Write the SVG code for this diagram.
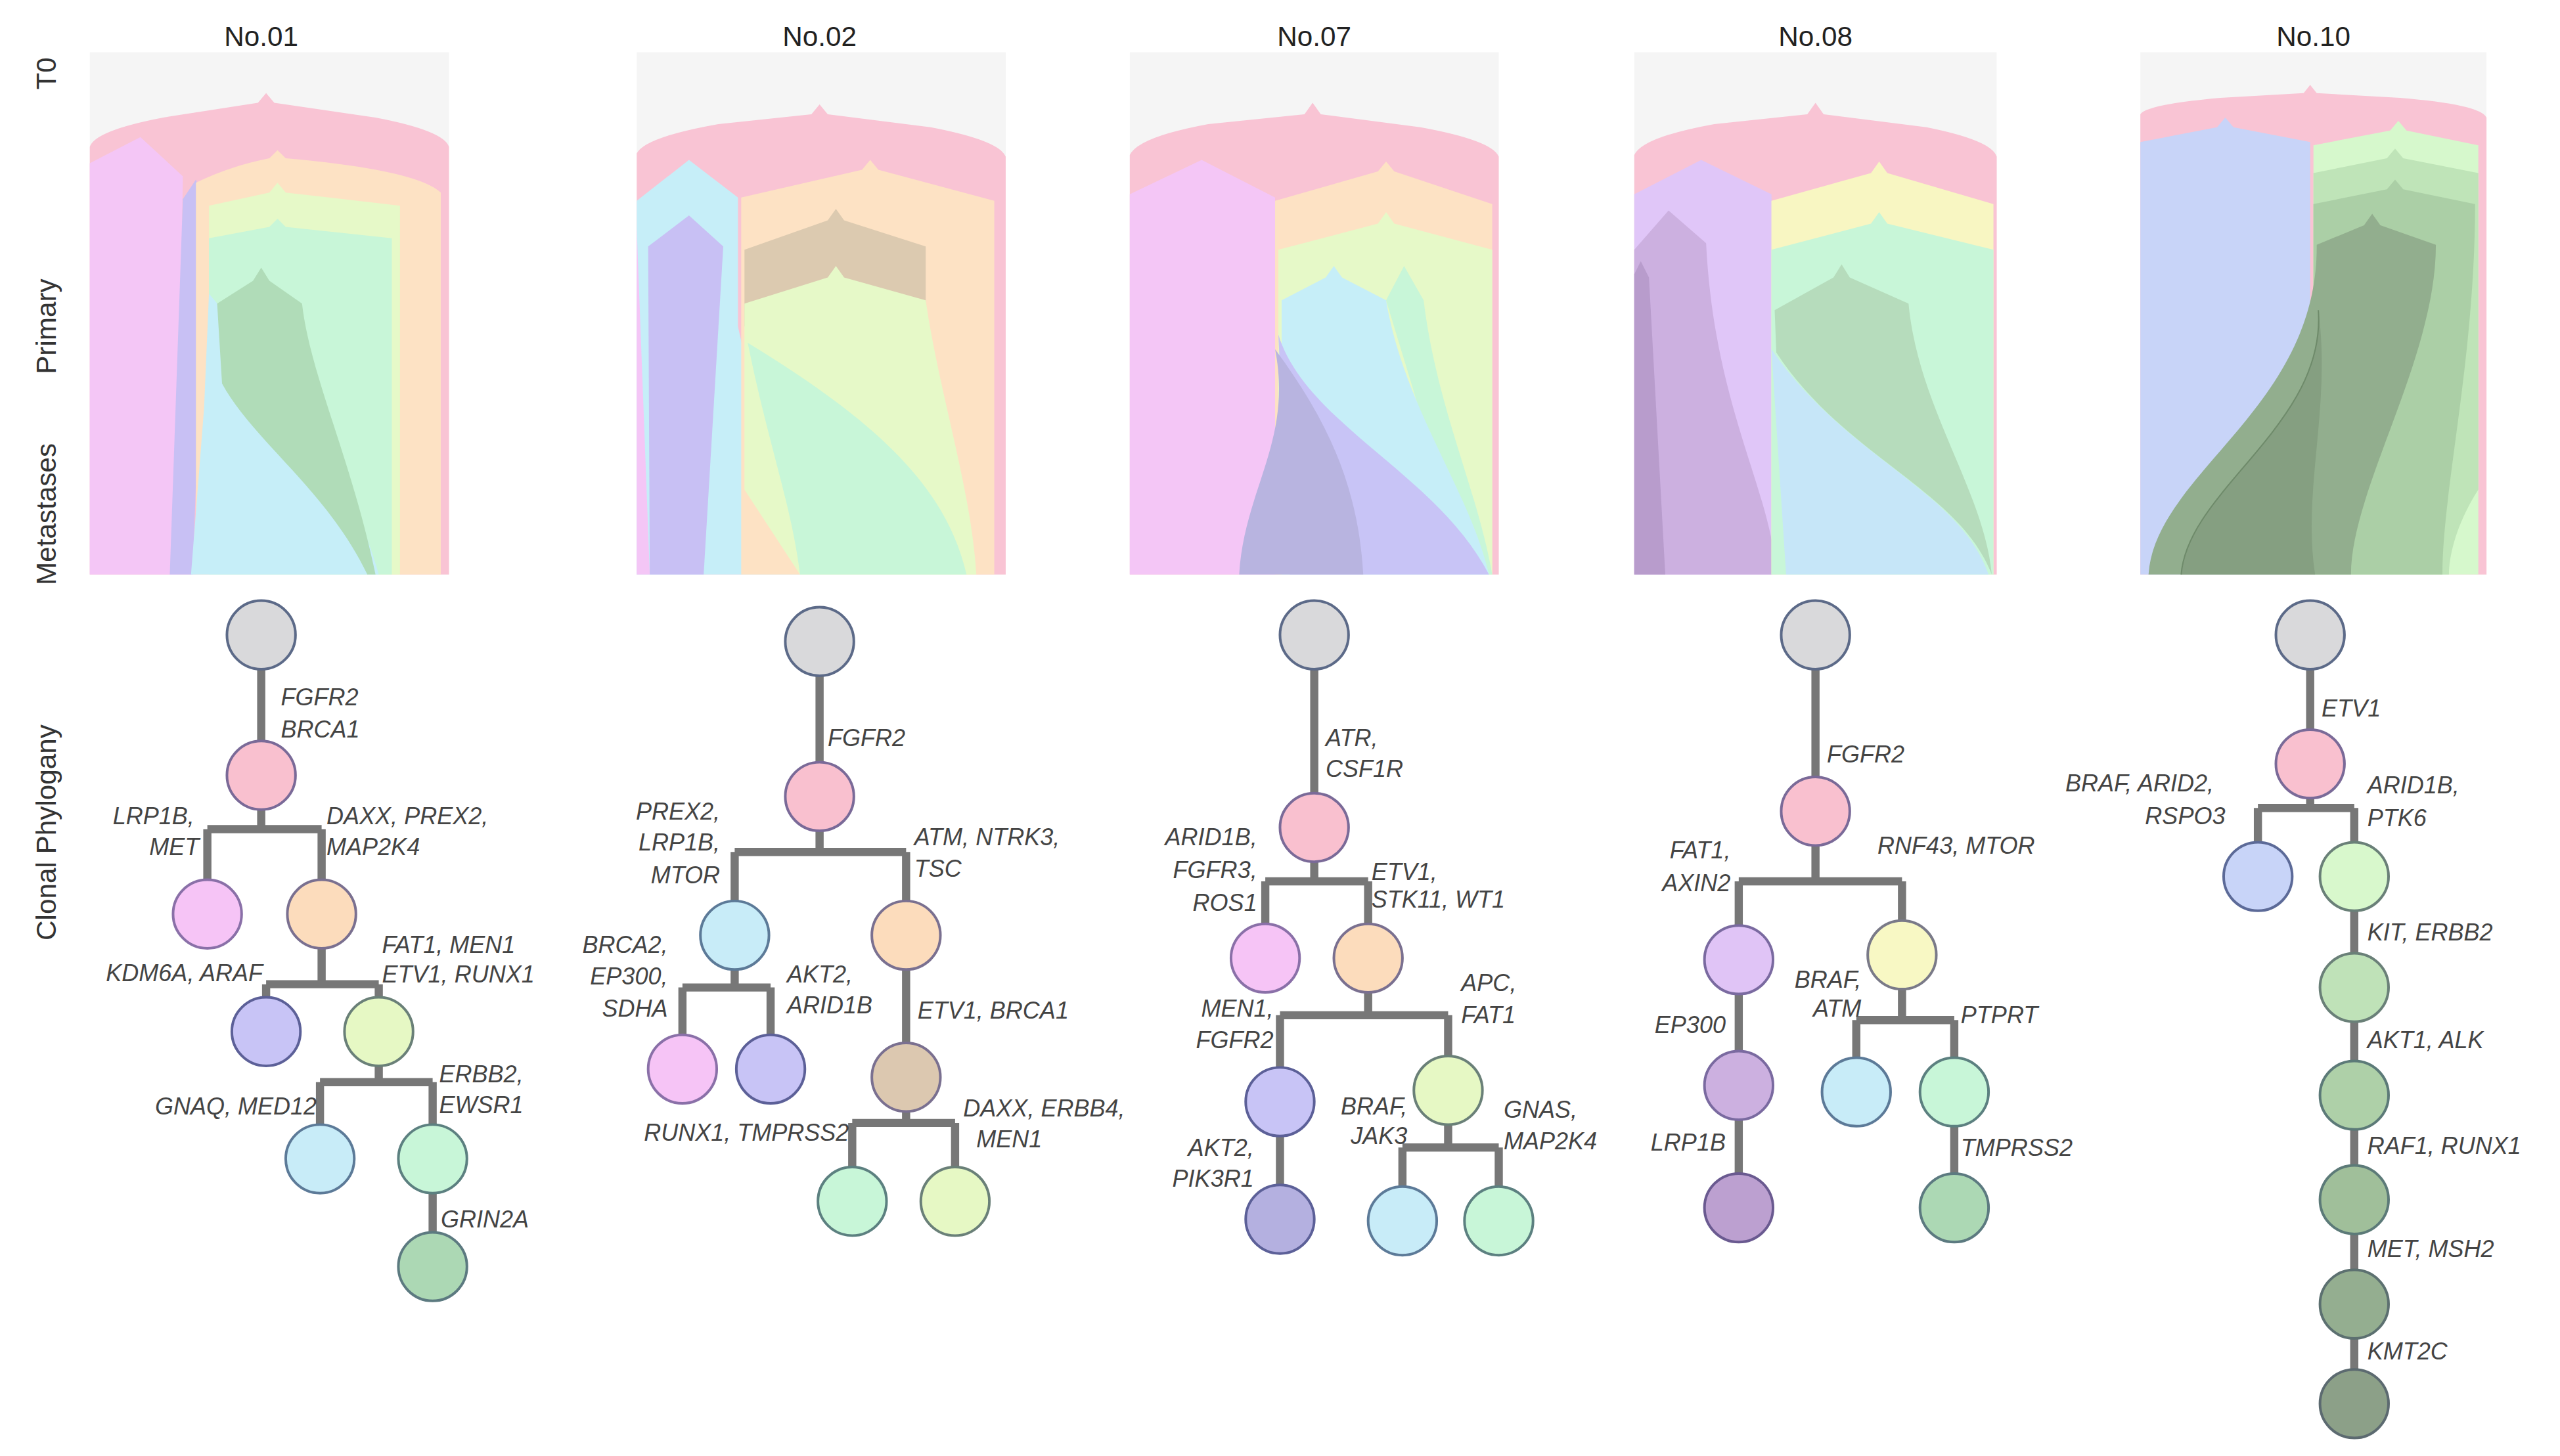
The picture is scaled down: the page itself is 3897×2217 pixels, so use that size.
<svg xmlns="http://www.w3.org/2000/svg" width="3897" height="2217" viewBox="0 0 3897 2217">
<style>
.t{font-family:"Liberation Sans",Arial,sans-serif;font-size:17px;fill:#222}
.r{font-family:"Liberation Sans",Arial,sans-serif;font-size:17px;fill:#333}
.l{font-family:"Liberation Sans",Arial,sans-serif;font-size:14.5px;font-style:italic;fill:#444}
.e{text-anchor:end}
.c{stroke-width:1.6}
.ed{fill:none;stroke:#777;stroke-width:5}
.bg{fill:#f5f5f5}
</style>
<rect width="3897" height="2217" fill="#fff"/>
<g transform="scale(2.4853)">
<g id="titles">
<text class="t" x="160" y="28" text-anchor="middle">No.01</text>
<text class="t" x="502" y="28" text-anchor="middle">No.02</text>
<text class="t" x="805" y="28" text-anchor="middle">No.07</text>
<text class="t" x="1112" y="28" text-anchor="middle">No.08</text>
<text class="t" x="1417" y="28" text-anchor="middle">No.10</text>
<text class="r" transform="translate(34,45) rotate(-90)" text-anchor="middle">T0</text>
<text class="r" transform="translate(34,200) rotate(-90)" text-anchor="middle">Primary</text>
<text class="r" transform="translate(34,315) rotate(-90)" text-anchor="middle">Metastases</text>
<text class="r" transform="translate(34,510) rotate(-90)" text-anchor="middle">Clonal Phylogany</text>
</g>

<g id="fish01">
<rect class="bg" x="55" y="32" width="220" height="320"/>
<path d="M55,352 L55,90 Q58,80 100,72 L158,63 L163,57 L168,63 L230,72 Q272,80 275,90 L275,352 Z" fill="#f9c4d4"/>
<path d="M55,352 L55,100 L86,84 L112,108 L108,352 Z" fill="#f4c6f6"/>
<path d="M104,352 L112,122 L120,110 L126,130 L118,352 Z" fill="#c8c0f4"/>
<path d="M120,352 L120,112 Q140,102 165,97 L170,92 L175,97 Q255,104 270,118 L270,352 Z" fill="#fde2c4"/>
<path d="M128,352 L128,126 L165,118 L170,112 L175,118 L245,126 L245,352 Z" fill="#e6f9c8"/>
<path d="M128,352 L128,146 L165,139 L170,134 L175,139 L240,146 L240,352 Z" fill="#c8f6d8"/>
<path d="M117,352 L125,250 L128,180 C170,230 215,290 232,352 Z" fill="#c6eef8"/>
<path d="M133,186 L155,172 L160,164 L165,172 L185,186 C190,230 215,280 230,352 L225,352 C200,300 155,270 136,235 Z" fill="#b0dcb8"/>
</g>

<g id="fish02">
<rect class="bg" x="390" y="32" width="226" height="320"/>
<path d="M390,352 L390,94 Q395,84 440,76 L497,70 L502,64 L507,70 L570,78 Q612,86 616,96 L616,352 Z" fill="#f9c4d4"/>
<path d="M390,352 L390,123 L422,98 L452,121 L452,200 C465,260 485,300 490,352 Z" fill="#c6eef8"/>
<path d="M390,352 L390,140 L398,352 Z" fill="#f4c6f6"/>
<path d="M398,352 L397,151 L422,132 L443,151 L431,352 Z" fill="#c8c0f4"/>
<path d="M454,352 L454,121 L528,104 L533,98 L538,104 L609,123 L609,352 Z" fill="#fde2c4"/>
<path d="M456,200 L456,153 L507,135 L512,128 L517,135 L567,151 L567,200 Z" fill="#dccab0"/>
<path d="M456,300 L456,186 L507,170 L512,163 L517,170 L567,184 C575,240 595,300 598,352 L490,352 Z" fill="#e6f9c8"/>
<path d="M458,210 C470,270 485,310 490,352 L592,352 C580,300 540,260 458,210 Z" fill="#c8f6d8"/>
</g>

<g id="fish07">
<rect class="bg" x="692" y="32" width="226" height="320"/>
<path d="M692,352 L692,95 Q697,84 740,76 L799,70 L804,63 L809,70 L870,78 Q914,86 918,96 L918,352 Z" fill="#f9c4d4"/>
<path d="M692,352 L692,119 L736,98 L781,121 L781,352 Z" fill="#f4c6f6"/>
<path d="M781,352 L781,123 L844,105 L849,99 L854,105 L914,125 L914,352 Z" fill="#fde2c4"/>
<path d="M783,352 L783,153 L844,137 L849,130 L854,137 L914,153 L914,352 Z" fill="#e6f9c8"/>
<path d="M849,184 L860,163 L872,184 C880,250 905,300 914,352 L900,352 Z" fill="#c8f6d8"/>
<path d="M785,352 L785,184 L812,170 L817,163 L822,170 L849,184 C860,250 900,300 912,352 Z" fill="#c6eef8"/>
<path d="M783,205 C800,260 880,290 912,352 L790,352 Z" fill="#c8c4f6"/>
<path d="M781,214 C792,270 762,300 759,352 L835,352 C832,300 815,260 781,214 Z" fill="#b8b4e0"/>
</g>

<g id="fish08">
<rect class="bg" x="1001" y="32" width="222" height="320"/>
<path d="M1001,352 L1001,95 Q1006,84 1050,76 L1107,70 L1112,63 L1117,70 L1180,78 Q1220,86 1223,96 L1223,352 Z" fill="#f9c4d4"/>
<path d="M1001,352 L1001,119 L1042,98 L1085,119 L1094,352 Z" fill="#e0c6f8"/>
<path d="M1001,352 L1001,153 L1022,129 L1045,149 C1050,250 1085,300 1088,352 Z" fill="#ccb0e0"/>
<path d="M1001,352 L1001,168 L1005,160 L1010,170 L1020,352 Z" fill="#b89ccc"/>
<path d="M1085,352 L1085,123 L1146,106 L1151,99 L1156,106 L1221,125 L1221,352 Z" fill="#f8f6c2"/>
<path d="M1085,352 L1085,153 L1146,137 L1151,130 L1156,137 L1221,153 L1221,352 Z" fill="#c8f6d8"/>
<path d="M1094,352 L1085,214 C1130,280 1200,300 1218,352 Z" fill="#c6e6f8"/>
<path d="M1087,190 L1123,170 L1128,162 L1133,170 L1169,186 C1175,250 1215,300 1220,352 C1200,300 1130,280 1088,216 Z" fill="#b6dcbc"/>
</g>

<g id="fish10">
<rect class="bg" x="1311" y="32" width="212" height="320"/>
<path d="M1311,352 L1311,70 Q1315,64 1360,60 L1411,57 L1415,52 L1419,57 L1470,60 Q1519,64 1523,72 L1523,352 Z" fill="#f9c4d4"/>
<path d="M1311,352 L1311,87 L1358,78 L1363,72 L1368,78 L1415,87 L1415,352 Z" fill="#c8d4f8"/>
<path d="M1417,352 L1417,89 L1464,80 L1469,74 L1474,80 L1518,89 L1518,352 Z" fill="#d6f8cc"/>
<path d="M1417,352 L1417,106 L1462,97 L1467,91 L1472,97 L1518,106 L1518,300 C1505,320 1500,340 1500,352 Z" fill="#bfe4b8"/>
<path d="M1417,352 L1417,125 L1462,116 L1467,110 L1472,116 L1516,125 C1516,220 1496,300 1496,352 Z" fill="#a9cca4" opacity="0.9"/>
<path d="M1419,150 L1448,138 L1453,131 L1458,138 L1492,150 C1492,220 1440,300 1440,352 L1316,352 C1320,290 1420,250 1419,150 Z" fill="#92ae8e"/>
<path d="M1420,190 C1425,260 1340,300 1336,352 L1418,352 C1410,300 1428,250 1420,190 Z" fill="#859f81"/>
<path d="M1420,190 C1425,260 1340,300 1336,352" fill="none" stroke="#6e8a6a" stroke-width="0.8"/>
</g>

<g id="connectors" class="ed">
<path class="ed" d="M160,410 V454 M160,496 V508 M127,508 H197 M127,508 V540 M197,508 V540 M197,580 V603 M163,603 H232 M163,603 V612 M232,603 V612 M232,652 V663 M196,663 H265 M196,663 V690 M265,663 V690 M265,730 V755"/>
<path class="ed" d="M502,413 V468 M502,508 V522 M450,522 H555 M450,522 V553 M555,522 V553 M450,593 V605 M418,605 H472 M418,605 V635 M472,605 V635 M555,593 V640 M555,680 V688 M522,688 H585 M522,688 V716 M585,688 V716"/>
<path class="ed" d="M805,409 V487 M805,527 V540 M775,540 H838 M775,540 V567 M838,540 V567 M838,607 V622 M784,622 H887 M784,622 V655 M887,622 V648 M784,695 V727 M887,688 V703 M859,703 H918 M859,703 V728 M918,703 V728"/>
<path class="ed" d="M1112,409 V477 M1112,517 V540 M1065,540 H1165 M1065,540 V568 M1165,540 V565 M1065,608 V645 M1065,685 V720 M1165,605 V625 M1137,625 H1197 M1137,625 V649 M1197,625 V649 M1197,689 V720"/>
<path class="ed" d="M1415,409 V448 M1415,488 V495 M1383,495 H1442 M1383,495 V517 M1442,495 V517 M1442,557 V585 M1442,625 V651 M1442,691 V715 M1442,755 V779 M1442,819 V840"/>
</g>

<g id="tree01">
<circle class="c" cx="160" cy="389" r="21" fill="#d9d9db" stroke="#5c6a88"/>
<circle class="c" cx="160" cy="475" r="21" fill="#f9c0cf" stroke="#7a6a98"/>
<circle class="c" cx="127" cy="560" r="21" fill="#f6c4f6" stroke="#8a70a8"/>
<circle class="c" cx="197" cy="560" r="21" fill="#fcdcbc" stroke="#7a7090"/>
<circle class="c" cx="163" cy="632" r="21" fill="#c8c4f6" stroke="#5c6098"/>
<circle class="c" cx="232" cy="632" r="21" fill="#e6f8c4" stroke="#6a8078"/>
<circle class="c" cx="196" cy="710" r="21" fill="#c8ecf8" stroke="#5c7a98"/>
<circle class="c" cx="265" cy="710" r="21" fill="#c8f6d8" stroke="#5c8080"/>
<circle class="c" cx="265" cy="776" r="21" fill="#acd8b4" stroke="#5c7a80"/>
<text class="l" x="172" y="432">FGFR2</text>
<text class="l" x="172" y="452">BRCA1</text>
<text class="l e" x="119" y="505">LRP1B,</text>
<text class="l e" x="122" y="524">MET</text>
<text class="l" x="200" y="505">DAXX, PREX2,</text>
<text class="l" x="200" y="524">MAP2K4</text>
<text class="l e" x="161" y="601">KDM6A, ARAF</text>
<text class="l" x="234" y="584">FAT1, MEN1</text>
<text class="l" x="234" y="602">ETV1, RUNX1</text>
<text class="l e" x="194" y="683">GNAQ, MED12</text>
<text class="l" x="269" y="663">ERBB2,</text>
<text class="l" x="269" y="682">EWSR1</text>
<text class="l" x="270" y="752">GRIN2A</text>
</g>

<g id="tree02">
<circle class="c" cx="502" cy="393" r="21" fill="#d9d9db" stroke="#5c6a88"/>
<circle class="c" cx="502" cy="488" r="21" fill="#f9c0cf" stroke="#7a6a98"/>
<circle class="c" cx="450" cy="573" r="21" fill="#c8ecf8" stroke="#5c7a98"/>
<circle class="c" cx="555" cy="573" r="21" fill="#fcdcbc" stroke="#7a7090"/>
<circle class="c" cx="418" cy="655" r="21" fill="#f6c4f6" stroke="#8a70a8"/>
<circle class="c" cx="472" cy="655" r="21" fill="#c8c4f6" stroke="#5c6098"/>
<circle class="c" cx="555" cy="660" r="21" fill="#dcc8b0" stroke="#7a7090"/>
<circle class="c" cx="522" cy="736" r="21" fill="#c8f6d8" stroke="#5c8080"/>
<circle class="c" cx="585" cy="736" r="21" fill="#e6f8c4" stroke="#6a8078"/>
<text class="l" x="507" y="457">FGFR2</text>
<text class="l e" x="441" y="502">PREX2,</text>
<text class="l e" x="441" y="521">LRP1B,</text>
<text class="l e" x="441" y="541">MTOR</text>
<text class="l" x="560" y="518">ATM, NTRK3,</text>
<text class="l" x="560" y="537">TSC</text>
<text class="l e" x="409" y="584">BRCA2,</text>
<text class="l e" x="409" y="603">EP300,</text>
<text class="l e" x="409" y="623">SDHA</text>
<text class="l" x="482" y="602">AKT2,</text>
<text class="l" x="482" y="621">ARID1B</text>
<text class="l" x="562" y="624">ETV1, BRCA1</text>
<text class="l e" x="520" y="699">RUNX1, TMPRSS2</text>
<text class="l" x="590" y="684">DAXX, ERBB4,</text>
<text class="l" x="598" y="703">MEN1</text>
</g>

<g id="tree07">
<circle class="c" cx="805" cy="389" r="21" fill="#d9d9db" stroke="#5c6a88"/>
<circle class="c" cx="805" cy="507" r="21" fill="#f9c0cf" stroke="#7a6a98"/>
<circle class="c" cx="775" cy="587" r="21" fill="#f6c4f6" stroke="#8a70a8"/>
<circle class="c" cx="838" cy="587" r="21" fill="#fcdcbc" stroke="#7a7090"/>
<circle class="c" cx="784" cy="675" r="21" fill="#c8c4f6" stroke="#5c6098"/>
<circle class="c" cx="887" cy="668" r="21" fill="#e6f8c4" stroke="#6a8078"/>
<circle class="c" cx="784" cy="747" r="21" fill="#b4b0e0" stroke="#5c6098"/>
<circle class="c" cx="859" cy="748" r="21" fill="#c8ecf8" stroke="#5c7a98"/>
<circle class="c" cx="918" cy="748" r="21" fill="#c8f6d8" stroke="#5c8080"/>
<text class="l" x="812" y="457">ATR,</text>
<text class="l" x="812" y="476">CSF1R</text>
<text class="l e" x="770" y="518">ARID1B,</text>
<text class="l e" x="770" y="538">FGFR3,</text>
<text class="l e" x="770" y="558">ROS1</text>
<text class="l" x="840" y="539">ETV1,</text>
<text class="l" x="840" y="556">STK11, WT1</text>
<text class="l e" x="780" y="623">MEN1,</text>
<text class="l e" x="780" y="642">FGFR2</text>
<text class="l" x="895" y="607">APC,</text>
<text class="l" x="895" y="627">FAT1</text>
<text class="l e" x="768" y="708">AKT2,</text>
<text class="l e" x="768" y="727">PIK3R1</text>
<text class="l e" x="862" y="683">BRAF,</text>
<text class="l e" x="862" y="701">JAK3</text>
<text class="l" x="921" y="685">GNAS,</text>
<text class="l" x="921" y="704">MAP2K4</text>
</g>

<g id="tree08">
<circle class="c" cx="1112" cy="389" r="21" fill="#d9d9db" stroke="#5c6a88"/>
<circle class="c" cx="1112" cy="497" r="21" fill="#f9c0cf" stroke="#7a6a98"/>
<circle class="c" cx="1065" cy="588" r="21" fill="#e0c4f6" stroke="#7a6aa0"/>
<circle class="c" cx="1165" cy="585" r="21" fill="#f8f8c4" stroke="#7a7a88"/>
<circle class="c" cx="1065" cy="665" r="21" fill="#ccb0e0" stroke="#7a6aa0"/>
<circle class="c" cx="1065" cy="740" r="21" fill="#bca0d0" stroke="#6a5a90"/>
<circle class="c" cx="1137" cy="669" r="21" fill="#c8ecf8" stroke="#5c7a98"/>
<circle class="c" cx="1197" cy="669" r="21" fill="#c8f6d8" stroke="#5c8080"/>
<circle class="c" cx="1197" cy="740" r="21" fill="#acd8b4" stroke="#5c7a80"/>
<text class="l" x="1119" y="467">FGFR2</text>
<text class="l e" x="1060" y="526">FAT1,</text>
<text class="l e" x="1060" y="546">AXIN2</text>
<text class="l" x="1150" y="523">RNF43, MTOR</text>
<text class="l e" x="1140" y="605">BRAF,</text>
<text class="l e" x="1140" y="623">ATM</text>
<text class="l e" x="1057" y="633">EP300</text>
<text class="l e" x="1057" y="705">LRP1B</text>
<text class="l" x="1201" y="627">PTPRT</text>
<text class="l" x="1201" y="708">TMPRSS2</text>
</g>

<g id="tree10">
<circle class="c" cx="1415" cy="389" r="21" fill="#d9d9db" stroke="#5c6a88"/>
<circle class="c" cx="1415" cy="468" r="21" fill="#f9c0cf" stroke="#7a6a98"/>
<circle class="c" cx="1383" cy="537" r="21" fill="#c8d4f8" stroke="#5c6a98"/>
<circle class="c" cx="1442" cy="537" r="21" fill="#d8f8cc" stroke="#6a8078"/>
<circle class="c" cx="1442" cy="605" r="21" fill="#bfe2b8" stroke="#6a8078"/>
<circle class="c" cx="1442" cy="671" r="21" fill="#aed0a8" stroke="#5c7a78"/>
<circle class="c" cx="1442" cy="735" r="21" fill="#a0bf9a" stroke="#5c7a78"/>
<circle class="c" cx="1442" cy="799" r="21" fill="#94ae90" stroke="#5c7070"/>
<circle class="c" cx="1442" cy="860" r="21" fill="#8ca088" stroke="#5c6a70"/>
<text class="l" x="1422" y="439">ETV1</text>
<text class="l e" x="1356" y="485">BRAF, ARID2,</text>
<text class="l e" x="1363" y="505">RSPO3</text>
<text class="l" x="1450" y="486">ARID1B,</text>
<text class="l" x="1450" y="506">PTK6</text>
<text class="l" x="1450" y="576">KIT, ERBB2</text>
<text class="l" x="1450" y="642">AKT1, ALK</text>
<text class="l" x="1450" y="707">RAF1, RUNX1</text>
<text class="l" x="1450" y="770">MET, MSH2</text>
<text class="l" x="1450" y="833">KMT2C</text>
</g>
</g>
</svg>
